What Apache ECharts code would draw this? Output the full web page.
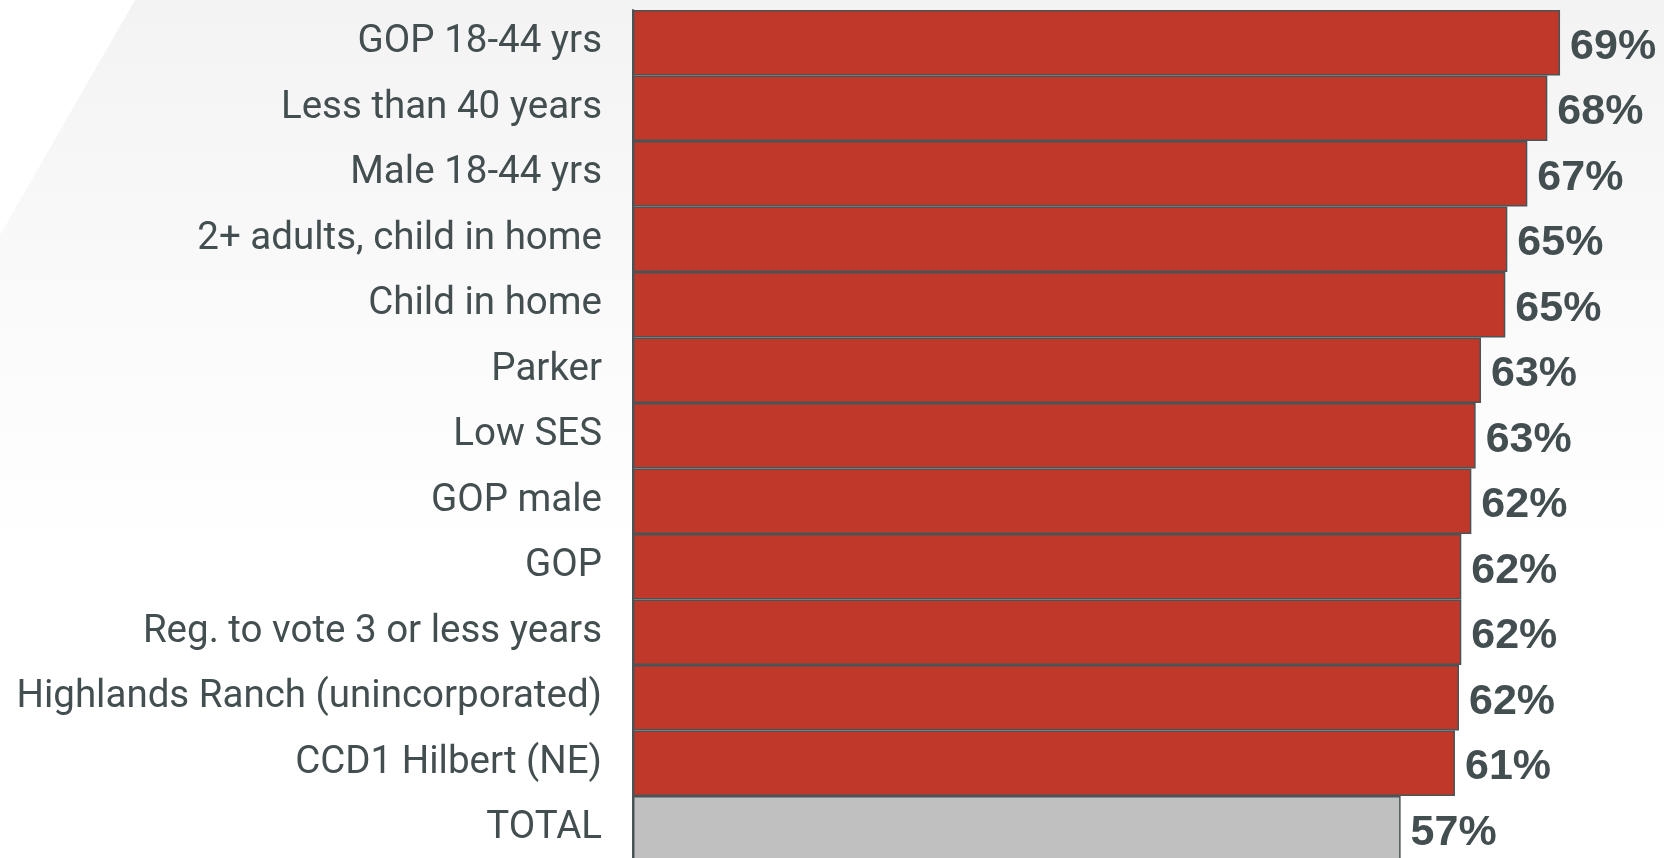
<!DOCTYPE html>
<html>
<head>
<meta charset="utf-8">
<script src="https://cdn.jsdelivr.net/npm/echarts@6/dist/echarts.min.js"></script>
<style>
html,body{margin:0;padding:0;background:#fff;}
#c{width:1664px;height:858px;}
</style>
</head>
<body>
<div id="c"></div>
<script>
const categories = [
  "GOP 18-44 yrs",
  "Less than 40 years",
  "Male 18-44 yrs",
  "2+ adults, child in home",
  "Child in home",
  "Parker",
  "Low SES",
  "GOP male",
  "GOP",
  "Reg. to vote 3 or less years",
  "Highlands Ranch (unincorporated)",
  "CCD1 Hilbert (NE)",
  "TOTAL"
];
const values = [69.08, 68.13, 66.64, 65.15, 65.0, 63.19, 62.79, 62.47, 61.72, 61.72, 61.55, 61.25, 57.2];
const labels = ["69%", "68%", "67%", "65%", "65%", "63%", "63%", "62%", "62%", "62%", "62%", "61%", "57%"];

const RED = '#c0382a';
const GRAY = '#c0c0c0';
const EDGE = '#4a5457';
const TEXT = '#434e50';

const chart = echarts.init(document.getElementById('c'), null, {renderer: 'canvas'});
chart.setOption({
  backgroundColor: '#ffffff',
  animation: false,
  graphic: [{
    type: 'polygon',
    z: -10,
    silent: true,
    shape: {points: [[135, 0], [1664, 0], [1664, 858], [0, 858], [0, 235]]},
    style: {
      fill: new echarts.graphic.LinearGradient(0, 0, 0, 1, [
        {offset: 0, color: '#f3f3f3'},
        {offset: 0.35, color: '#fafafa'},
        {offset: 0.65, color: '#ffffff'},
        {offset: 1, color: '#ffffff'}
      ])
    }
  }],
  grid: {left: 633, top: 10, width: 1006.5, height: 851.5, outerBoundsMode: 'none', containLabel: false},
  xAxis: {
    type: 'value', min: 0, max: 75, show: false,
    splitLine: {show: false}
  },
  yAxis: {
    type: 'category',
    data: categories,
    inverse: true,
    axisTick: {show: false},
    axisLine: {show: true, lineStyle: {color: EDGE, width: 2}},
    axisLabel: {
      margin: 31,
      fontSize: 38.5,
      fontFamily: "Roboto, sans-serif",
      color: TEXT,
      padding: [10, 0, 0, 0]
    },
    z: 5
  },
  series: [{
    type: 'bar',
    barCategoryGap: 0,
    data: values.map((v, i) => ({
      value: v,
      itemStyle: {color: categories[i] === 'TOTAL' ? GRAY : RED}
    })),
    itemStyle: {borderColor: EDGE, borderWidth: 1.5},
    label: {
      show: true,
      position: 'right',
      distance: 10,
      formatter: p => labels[p.dataIndex],
      fontSize: 43,
      fontWeight: 'bold',
      fontFamily: "'Liberation Sans', Arial, sans-serif",
      color: TEXT,
      offset: [0, 4]
    }
  }]
});
</script>
</body>
</html>
